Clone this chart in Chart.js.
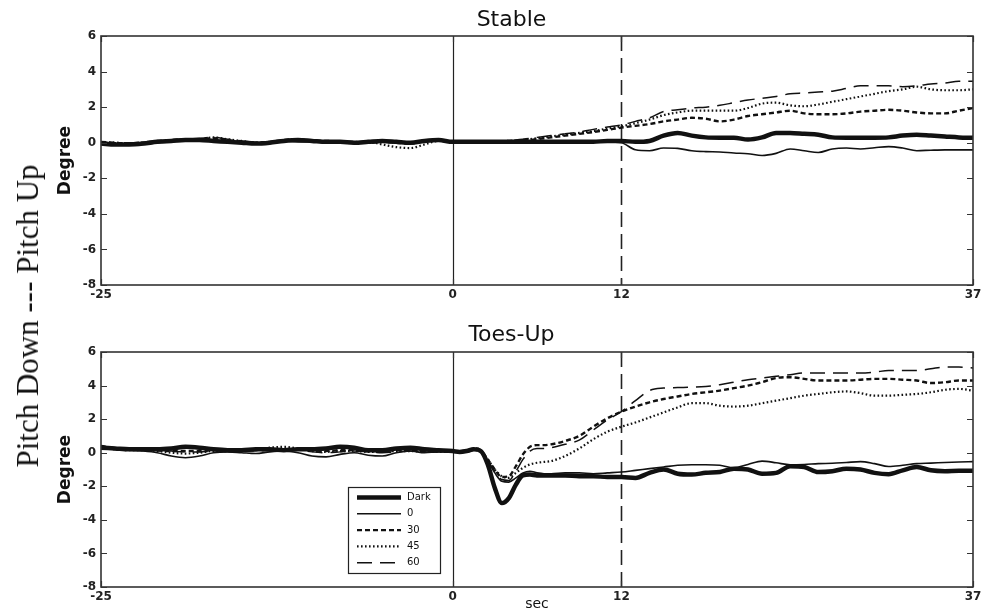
<!DOCTYPE html>
<html><head><meta charset="utf-8">
<script src="https://cdn.jsdelivr.net/npm/chart.js@4"></script>
<style>
html,body{margin:0;padding:0;background:#fff;}
#wrap{position:relative;width:989px;height:613px;overflow:hidden;background:#fff;}
#c1{position:absolute;left:0;top:0;}
#c2{position:absolute;left:0;top:300px;}
#ylab{position:absolute;left:28px;top:316px;transform:translate(-50%,-50%) rotate(-90deg);font-family:"Liberation Serif","DejaVu Serif",serif;font-size:31px;white-space:nowrap;color:#111;}
</style></head><body>
<div id="wrap">
<canvas id="c1" width="989" height="300"></canvas>
<canvas id="c2" width="989" height="313"></canvas>
<div id="ylab">Pitch Down --- Pitch Up</div>
</div>
<script>
// ---------- data ----------
const time = [-25,-24,-23,-22,-21,-20,-19,-18,-17,-16,-15,-14,-13,-12,-11,-10,-9,-8,-7,-6,-5,-4,-3,-2,-1,0,
  0.5,1,1.5,2,2.5,3,3.5,4,4.5,5,5.5,6,6.5,7,
  8,9,10,11,12,13,14,15,16,17,18,19,20,21,22,23,24,25,26,27,28,29,30,31,32,33,34,35,36,37];

const seriesLabels = ['Dark','0','30','45','60'];
const panelTitles = ['Stable','Toes-Up'];
const xTickValues = [-25,0,12,37];
const guideTimes = [0,12];

const stableDark = [-0.05,-0.1,-0.1,-0.05,0.05,0.1,0.15,0.15,0.1,0.05,0.0,-0.05,0.0,0.1,0.15,0.1,0.05,0.05,0.0,0.05,0.1,0.05,0.0,0.1,0.15,0.05,
  0.05,0.05,0.05,0.05,0.05,0.05,0.05,0.05,0.05,0.05,0.05,0.05,0.05,0.05,
  0.05,0.05,0.05,0.1,0.1,0.05,0.1,0.4,0.55,0.4,0.3,0.28,0.28,0.18,0.3,0.55,0.55,0.5,0.45,0.3,0.28,0.28,0.28,0.3,0.4,0.45,0.4,0.35,0.3,0.28];
const stableZero = [0.0,-0.05,-0.1,-0.1,0.0,0.05,0.1,0.1,0.15,0.05,0.0,0.0,0.05,0.1,0.05,0.05,0.0,0.0,-0.05,0.0,0.05,0.0,-0.05,0.05,0.1,0.05,
  0.05,0.05,0.0,0.0,0.0,0.0,0.0,0.05,0.05,0.05,0.05,0.05,0.05,0.05,
  0.05,0.05,0.05,0.05,0.0,-0.4,-0.45,-0.3,-0.32,-0.45,-0.5,-0.52,-0.58,-0.62,-0.72,-0.6,-0.35,-0.45,-0.55,-0.35,-0.3,-0.35,-0.28,-0.22,-0.3,-0.45,-0.42,-0.4,-0.4,-0.4];
const stable30 = [0.05,0.0,-0.05,0.0,0.1,0.15,0.2,0.2,0.25,0.15,0.05,0.0,0.05,0.15,0.2,0.1,0.1,0.05,0.05,0.0,0.05,0.0,-0.05,0.1,0.15,0.05,
  0.05,0.05,0.05,0.05,0.05,0.05,0.05,0.1,0.1,0.15,0.15,0.2,0.25,0.3,
  0.4,0.5,0.6,0.72,0.85,0.95,1.05,1.2,1.3,1.4,1.35,1.2,1.3,1.5,1.6,1.7,1.8,1.65,1.6,1.6,1.65,1.75,1.8,1.85,1.8,1.7,1.65,1.65,1.8,1.95];
const stable45 = [0.0,0.0,-0.05,0.0,0.05,0.1,0.15,0.2,0.3,0.2,0.1,0.0,0.0,0.1,0.15,0.1,0.05,0.0,0.0,0.05,-0.1,-0.25,-0.3,-0.1,0.1,0.05,
  0.05,0.05,0.05,0.05,0.05,0.05,0.05,0.1,0.1,0.15,0.2,0.25,0.3,0.35,
  0.45,0.55,0.65,0.8,0.92,1.1,1.3,1.55,1.7,1.8,1.8,1.8,1.8,1.95,2.2,2.25,2.1,2.05,2.15,2.3,2.45,2.6,2.75,2.9,3.0,3.15,3.0,2.95,2.95,3.0];
const stable60 = [0.05,0.0,0.0,0.05,0.1,0.15,0.2,0.25,0.3,0.2,0.1,0.05,0.05,0.15,0.2,0.15,0.1,0.05,0.05,0.1,0.05,0.0,0.0,0.1,0.15,0.05,
  0.05,0.05,0.05,0.05,0.05,0.05,0.1,0.1,0.15,0.2,0.25,0.3,0.35,0.4,
  0.5,0.6,0.75,0.88,1.0,1.2,1.4,1.75,1.85,1.95,2.0,2.1,2.25,2.4,2.5,2.6,2.75,2.8,2.85,2.9,3.05,3.2,3.2,3.2,3.15,3.2,3.3,3.35,3.45,3.45];

const toesDark = [0.3,0.25,0.2,0.2,0.2,0.25,0.35,0.3,0.2,0.15,0.15,0.2,0.2,0.15,0.2,0.2,0.25,0.35,0.3,0.15,0.15,0.25,0.3,0.2,0.15,0.1,
  0.05,0.1,0.2,0.1,-0.7,-2.1,-3.0,-2.7,-1.9,-1.35,-1.3,-1.35,-1.35,-1.35,
  -1.35,-1.4,-1.4,-1.45,-1.45,-1.5,-1.2,-1.0,-1.25,-1.3,-1.2,-1.15,-0.95,-1.0,-1.25,-1.2,-0.8,-0.85,-1.15,-1.1,-0.95,-1.0,-1.2,-1.28,-1.05,-0.85,-1.05,-1.1,-1.08,-1.08];
const toesZero = [0.35,0.2,0.15,0.1,0.0,-0.2,-0.3,-0.2,0.0,0.05,0.0,-0.05,0.05,0.1,0.0,-0.2,-0.25,-0.1,0.0,-0.15,-0.2,0.0,0.1,0.0,0.05,0.05,
  0.05,0.1,0.2,0.1,-0.5,-1.2,-1.7,-1.75,-1.5,-1.2,-1.1,-1.2,-1.25,-1.25,
  -1.2,-1.2,-1.25,-1.2,-1.15,-1.05,-0.95,-0.85,-0.75,-0.72,-0.72,-0.75,-0.9,-0.7,-0.5,-0.6,-0.72,-0.7,-0.65,-0.63,-0.58,-0.53,-0.65,-0.82,-0.75,-0.65,-0.62,-0.58,-0.55,-0.53];
const toes30 = [0.4,0.25,0.2,0.2,0.15,0.1,0.1,0.1,0.15,0.1,0.1,0.15,0.2,0.2,0.2,0.15,0.1,0.15,0.15,0.1,0.1,0.15,0.15,0.1,0.1,0.05,
  0.05,0.1,0.25,0.15,-0.4,-1.0,-1.45,-1.4,-0.8,-0.1,0.35,0.45,0.45,0.5,
  0.7,1.0,1.55,2.05,2.45,2.75,3.0,3.2,3.35,3.5,3.6,3.7,3.85,4.0,4.2,4.45,4.5,4.4,4.3,4.3,4.3,4.35,4.4,4.4,4.35,4.3,4.15,4.2,4.3,4.3];
const toes45 = [0.3,0.2,0.15,0.15,0.1,0.0,-0.05,0.0,0.1,0.1,0.15,0.2,0.3,0.35,0.25,0.1,0.05,0.1,0.1,0.05,0.05,0.1,0.1,0.05,0.05,0.05,
  0.05,0.05,0.15,0.05,-0.4,-1.0,-1.4,-1.5,-1.2,-0.9,-0.7,-0.6,-0.55,-0.5,
  -0.2,0.25,0.8,1.25,1.55,1.8,2.1,2.4,2.7,2.95,2.95,2.8,2.75,2.8,2.95,3.1,3.25,3.4,3.5,3.6,3.65,3.55,3.4,3.4,3.45,3.5,3.6,3.75,3.8,3.7];
const toes60 = [0.4,0.3,0.2,0.2,0.15,0.1,0.05,0.05,0.1,0.15,0.1,0.1,0.15,0.2,0.15,0.05,0.0,0.05,0.1,0.05,0.0,0.05,0.1,0.05,0.05,0.05,
  0.05,0.1,0.2,0.1,-0.5,-1.1,-1.6,-1.65,-1.1,-0.4,0.1,0.25,0.25,0.3,
  0.5,0.75,1.35,1.95,2.45,3.1,3.7,3.85,3.88,3.9,3.95,4.05,4.2,4.35,4.45,4.55,4.65,4.75,4.75,4.75,4.75,4.75,4.8,4.9,4.9,4.9,5.0,5.1,5.1,5.05];

// ---------- styles ----------
const INK = '#111';
const seriesStyles = [
  {width: 4.5, dash: []},
  {width: 1.6, dash: []},
  {width: 2.4, dash: [5, 3]},
  {width: 2.2, dash: [1.6, 2.4]},
  {width: 1.5, dash: [15, 8]}
];
const guideStyles = [
  {width: 1.2, dash: []},
  {width: 1.6, dash: [15, 7]}
];
const FONT = '"DejaVu Sans", Verdana, sans-serif';

const panelDecor = {
  id: 'panelDecor',
  beforeDatasetsDraw(chart) {
    const {ctx, chartArea: a, scales: {x}} = chart;
    ctx.save();
    guideTimes.forEach((t, i) => {
      const px = Math.round(x.getPixelForValue(t)) + 0.5;
      ctx.strokeStyle = '#222';
      ctx.lineWidth = guideStyles[i].width;
      ctx.setLineDash(guideStyles[i].dash);
      ctx.beginPath(); ctx.moveTo(px, a.top); ctx.lineTo(px, a.bottom); ctx.stroke();
    });
    ctx.restore();
  },
  afterDatasetsDraw(chart, args, opts) {
    const {ctx, chartArea: a, scales: {x, y}} = chart;
    ctx.save();
    ctx.setLineDash([]);
    ctx.strokeStyle = '#333';
    ctx.lineWidth = 1.6;
    ctx.strokeRect(a.left, a.top, a.right - a.left, a.bottom - a.top);
    ctx.lineWidth = 1.2;
    const tl = 6;
    y.ticks.forEach(t => {
      const py = Math.round(y.getPixelForValue(t.value)) + 0.5;
      ctx.beginPath();
      ctx.moveTo(a.left, py); ctx.lineTo(a.left + tl, py);
      ctx.moveTo(a.right, py); ctx.lineTo(a.right - tl, py);
      ctx.stroke();
    });
    x.ticks.forEach(t => {
      const px = Math.round(x.getPixelForValue(t.value)) + 0.5;
      ctx.beginPath();
      ctx.moveTo(px, a.bottom); ctx.lineTo(px, a.bottom - tl);
      ctx.moveTo(px, a.top); ctx.lineTo(px, a.top + tl);
      ctx.stroke();
    });
    if (opts && opts.legend) {
      const lx = a.left + 247, ly = a.top + 135, lw = 92, lh = 86;
      ctx.fillStyle = '#fff';
      ctx.fillRect(lx, ly, lw, lh);
      ctx.strokeStyle = '#222';
      ctx.lineWidth = 1.2;
      ctx.strokeRect(lx + 0.5, ly + 0.5, lw, lh);
      ctx.font = '10px ' + FONT;
      ctx.textBaseline = 'middle';
      ctx.textAlign = 'left';
      chart.data.datasets.forEach((ds, i) => {
        const yy = ly + 10.5 + i * 16.3;
        ctx.strokeStyle = INK;
        ctx.lineWidth = ds.borderWidth;
        ctx.setLineDash(ds.borderDash || []);
        ctx.beginPath(); ctx.moveTo(lx + 9, yy); ctx.lineTo(lx + 53, yy); ctx.stroke();
        ctx.setLineDash([]);
        ctx.fillStyle = INK;
        ctx.fillText(ds.label, lx + 59, yy);
      });
    }
    ctx.restore();
  }
};

function makePanel(id, title, seriesList, cfg) {
  const datasets = seriesList.map((vals, i) => ({
    label: seriesLabels[i],
    data: time.map((t, k) => ({x: t, y: vals[k]})),
    borderColor: INK,
    borderWidth: seriesStyles[i].width,
    borderDash: seriesStyles[i].dash,
    pointRadius: 0,
    fill: false,
    cubicInterpolationMode: 'monotone'
  }));
  return new Chart(document.getElementById(id), {
    type: 'line',
    data: {datasets},
    plugins: [panelDecor],
    options: {
      responsive: false,
      animation: false,
      layout: {padding: {left: 50, right: 16, top: 0, bottom: 0}},
      plugins: {
        legend: {display: false},
        tooltip: {enabled: false},
        title: {display: true, text: title, color: INK,
          font: {family: FONT, size: 22, weight: 'normal'},
          padding: {top: cfg.titleTop, bottom: cfg.titleBottom}},
        panelDecor: {legend: cfg.legend}
      },
      scales: {
        x: {
          type: 'linear', min: -25, max: 37,
          grid: {display: false, drawTicks: false},
          border: {display: false},
          afterBuildTicks: s => { s.ticks = xTickValues.map(v => ({value: v})); },
          afterFit: s => { s.height = cfg.xHeight; },
          ticks: {color: '#222', padding: 3, maxRotation: 0, autoSkip: false,
            font: {family: FONT, size: 12, weight: 'bold'}},
          title: {display: !!cfg.xTitle, text: cfg.xTitle || '', color: INK,
            font: {family: FONT, size: 14}, padding: {top: 0, bottom: 0}}
        },
        y: {
          min: -8, max: 6,
          grid: {display: false, drawTicks: false},
          border: {display: false},
          afterFit: s => { s.width = 51; },
          ticks: {stepSize: 2, color: '#222', padding: 5,
            font: {family: FONT, size: 12, weight: 'bold'}},
          title: {display: true, text: 'Degree', color: INK,
            font: {family: FONT, size: 17, weight: 'bold'}, padding: {top: 5, bottom: 0}}
        }
      }
    }
  });
}

makePanel('c1', panelTitles[0], [stableDark, stableZero, stable30, stable45, stable60],
  {titleTop: 6.8, titleBottom: 2.8, xHeight: 15, legend: false});
makePanel('c2', panelTitles[1], [toesDark, toesZero, toes30, toes45, toes60],
  {titleTop: 21.8, titleBottom: 3.8, xHeight: 26, legend: true, xTitle: 'sec'});
</script>
</body></html>
